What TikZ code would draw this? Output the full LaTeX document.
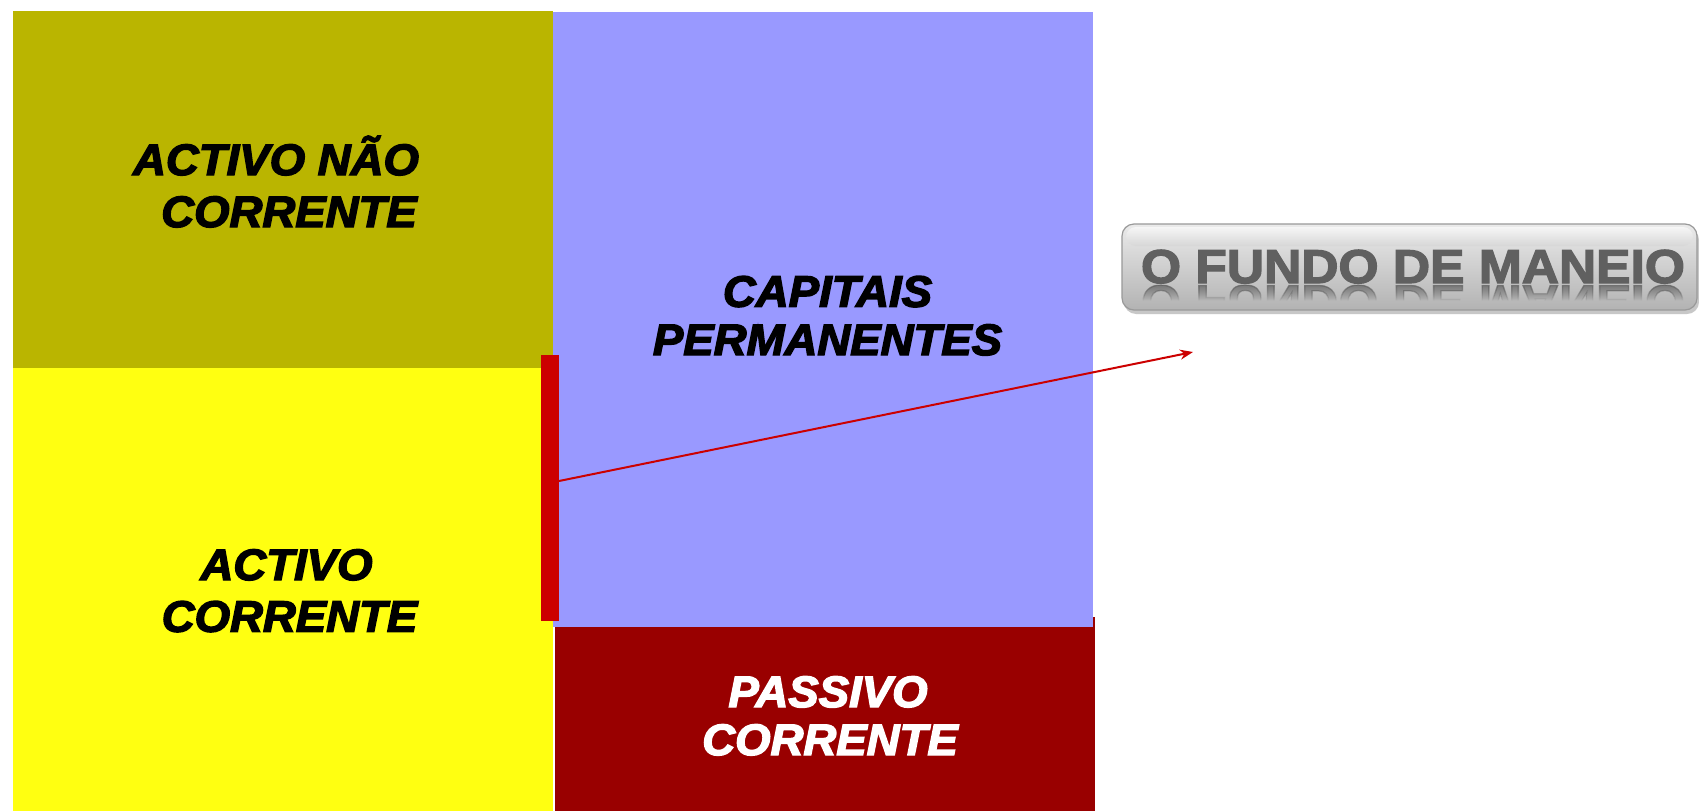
\documentclass[tikz,border=0pt]{standalone}
\usepackage{fontspec}
\usetikzlibrary{arrows.meta}
\newfontfamily\lblfont[FakeBold=3.2]{Liberation Sans Bold Italic}
\newfontfamily\btnfont[FakeBold=2.6]{Liberation Sans Bold}
\definecolor{olivebox}{RGB}{186,181,0}
\definecolor{yellowbox}{RGB}{255,255,17}
\definecolor{bluebox}{RGB}{153,153,255}
\definecolor{darkredbox}{RGB}{153,0,0}
\definecolor{redbar}{RGB}{204,0,0}
\definecolor{btntextgray}{RGB}{96,96,96}
\tikzset{
  lbl/.style={font=\lblfont\fontsize{44}{50}\selectfont, inner sep=0pt, anchor=base, text=black, xscale=1.035},
  lblw/.style={lbl, text=white},
  btntxt/.style={font=\btnfont\fontsize{47.5}{50}\selectfont, inner sep=0pt, anchor=base, text=btntextgray, xscale=1.085},
  arrowline/.style={draw=redbar, line width=2pt, -{Stealth[length=13pt,width=10pt]}}
}
\begin{document}
\begin{tikzpicture}[x=1pt,y=-1pt]
\useasboundingbox (0,0) rectangle (1699,811);
\fill[white] (0,0) rectangle (1699,811);
% blocks
\fill[olivebox] (13,11) rectangle (553,368);
\fill[yellowbox] (13,368) rectangle (553,811);
\fill[darkredbox] (555,617) rectangle (1095,811);
\fill[bluebox] (553,12) rectangle (1093,627);
\fill[redbar] (541,355) rectangle (559,621);
% labels
\node[lbl] (anc1) at (276,175) {ACTIVO NÃO};
\node[lbl] (anc2) at (289,227) {CORRENTE};
\node[lbl] (cp1) at (827.5,306.7) {CAPITAIS};
\node[lbl] (cp2) at (827.5,355) {PERMANENTES};
\node[lbl] (ac1) at (286.5,580) {ACTIVO};
\node[lbl] (ac2) at (289.5,631.7) {CORRENTE};
\node[lblw] (pc1) at (828,707) {PASSIVO};
\node[lblw] (pc2) at (830,755) {CORRENTE};
% button
\fill[black!22, rounded corners=12pt] (1124,228) rectangle (1699,314);
\shade[rounded corners=12pt, top color=black!8, bottom color=black!30, middle color=black!19, draw=black!40, line width=1.2pt] (1122,224) rectangle (1697,310);
\shade[rounded corners=10pt, top color=white, bottom color=black!17, opacity=0.6] (1126,227) rectangle (1693,246);
\foreach \i in {0,...,15}{
  \pgfmathsetmacro\op{0.5*(1-\i/16)}
  \begin{scope}
    \clip (1122,{284+\i}) rectangle (1697,{285+\i});
    \node[btntxt, yscale=-1, text opacity=\op] (refl\i) at (1413,285.5) {O FUNDO DE MANEIO};
  \end{scope}
}
\node[btntxt] (fm) at (1413,283) {O FUNDO DE MANEIO};
% arrow
\coordinate (arrstart) at (559,481);
\coordinate (arrtip) at (1193,352);
\draw[arrowline] (arrstart) -- (arrtip);
\end{tikzpicture}
\end{document}
